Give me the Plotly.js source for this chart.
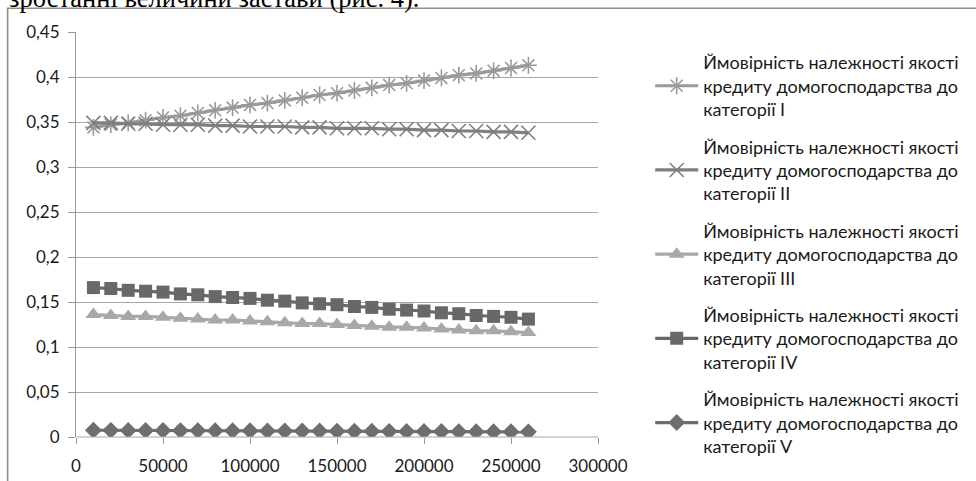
<!DOCTYPE html>
<html>
<head>
<meta charset="utf-8">
<script src="https://cdn.plot.ly/plotly-3.0.1.min.js"></script>
<style>html,body{margin:0;padding:0;background:#fff;}#chart{width:976px;height:481px;}</style>
</head>
<body>
<div id="chart"></div>
<script>
const xValues = [10000,20000,30000,40000,50000,60000,70000,80000,90000,100000,110000,120000,130000,140000,150000,160000,170000,180000,190000,200000,210000,220000,230000,240000,250000,260000];
const cat1 = [0.344,0.347,0.349,0.352,0.355,0.357,0.360,0.363,0.366,0.369,0.371,0.374,0.377,0.380,0.382,0.385,0.388,0.391,0.393,0.396,0.399,0.402,0.404,0.407,0.410,0.413];
const cat2 = [0.349,0.349,0.348,0.348,0.347,0.347,0.347,0.346,0.346,0.345,0.345,0.345,0.344,0.344,0.343,0.343,0.343,0.342,0.342,0.341,0.341,0.340,0.340,0.339,0.339,0.338];
const cat3 = [0.136,0.135,0.134,0.134,0.133,0.132,0.131,0.130,0.130,0.129,0.128,0.127,0.126,0.126,0.125,0.124,0.123,0.122,0.122,0.121,0.120,0.119,0.118,0.118,0.117,0.116];
const cat4 = [0.166,0.165,0.163,0.162,0.161,0.159,0.158,0.156,0.155,0.154,0.152,0.151,0.149,0.148,0.147,0.145,0.144,0.142,0.141,0.140,0.138,0.137,0.135,0.134,0.133,0.131];
const cat5 = [0.0075,0.0074,0.0073,0.0073,0.0072,0.0071,0.0071,0.0070,0.0069,0.0069,0.0068,0.0067,0.0066,0.0066,0.0065,0.0064,0.0064,0.0063,0.0062,0.0061,0.0061,0.0060,0.0059,0.0058,0.0058,0.0057];
const seriesNames = [
  "Ймовірність належності якості<br>кредиту домогосподарства до<br>категорії I",
  "Ймовірність належності якості<br>кредиту домогосподарства до<br>категорії II",
  "Ймовірність належності якості<br>кредиту домогосподарства до<br>категорії III",
  "Ймовірність належності якості<br>кредиту домогосподарства до<br>категорії IV",
  "Ймовірність належності якості<br>кредиту домогосподарства до<br>категорії V"
];
const yTicks = [0,0.05,0.1,0.15,0.2,0.25,0.3,0.35,0.4,0.45];
const xTicks = [0,50000,100000,150000,200000,250000,300000];
const headerText = "зростанні величини застави (рис. 4).";

const styles = [
  {color:'#9a9a9a', symbol:'asterisk-open', size:14, lw:1.6},
  {color:'#7f7f7f', symbol:'x-thin-open', size:14, lw:1.6},
  {color:'#a8a8a8', symbol:'triangle-up', size:14, lw:0},
  {color:'#686868', symbol:'square', size:13, lw:0},
  {color:'#6e6e6e', symbol:'diamond', size:13, lw:0}
];
const ys = [cat1, cat2, cat3, cat4, cat5];
const traces = ys.map((y,i)=>({
  type:'scatter', mode:'lines+markers', x:xValues, y:y, name:seriesNames[i],
  legendgroup:'g'+i,
  line:{color:styles[i].color, width:3.2},
  marker:{symbol:styles[i].symbol, size:styles[i].size, color:styles[i].color,
          line:{color:styles[i].color, width:styles[i].lw}}
}));

const F = 'Lato, "Open Sans", sans-serif';
const layout = {
  width:976, height:481,
  margin:{l:76, r:374, t:32, b:44},
  paper_bgcolor:'#fff', plot_bgcolor:'#fff',
  separators:', ',
  showlegend:true,
  font:{family:F, size:17, color:'#1a1a1a'},
  xaxis:{range:[0,300000], tickvals:xTicks, tickformat:'d', showgrid:false,
         zeroline:false, showline:false, ticks:'outside', ticklen:6, tickcolor:'#999',
         ticklabelstandoff:8,
         tickfont:{family:F, size:17, color:'#1a1a1a'}, fixedrange:true},
  yaxis:{range:[0,0.45], tickvals:yTicks, showgrid:true, gridcolor:'#a6a6a6', gridwidth:1,
         zeroline:false, showline:true, linecolor:'#999', linewidth:1,
         ticks:'outside', ticklen:7, tickcolor:'#999', ticklabelstandoff:5,
         tickfont:{family:F, size:17, color:'#1a1a1a'}, fixedrange:true},
  legend:{x:1.1, y:0.97, xanchor:'left', yanchor:'top', bgcolor:'rgba(0,0,0,0)',
          maxheight:475,
          font:{family:F, size:18, color:'#1a1a1a'}, tracegroupgap:11, itemwidth:43},
  shapes:[
    {type:'line', xref:'paper', yref:'paper', x0:0, x1:1, y0:0, y1:0, line:{color:'#a6a6a6', width:1}},
    {type:'rect', xref:'paper', yref:'paper', x0:-0.131, x1:2.0, y0:-0.3, y1:1.0585, line:{color:'#8c8c8c', width:1.6}}
  ],
  annotations:[
    {xref:'paper', yref:'paper', x:-0.133, y:1.083, xanchor:'left', yanchor:'middle', showarrow:false,
     text:headerText, font:{family:'"Liberation Serif", "DejaVu Serif", serif', size:26.5, color:'#000'}}
  ]
};
Plotly.newPlot('chart', traces, layout, {displayModeBar:false, staticPlot:true});
</script>
</body>
</html>
